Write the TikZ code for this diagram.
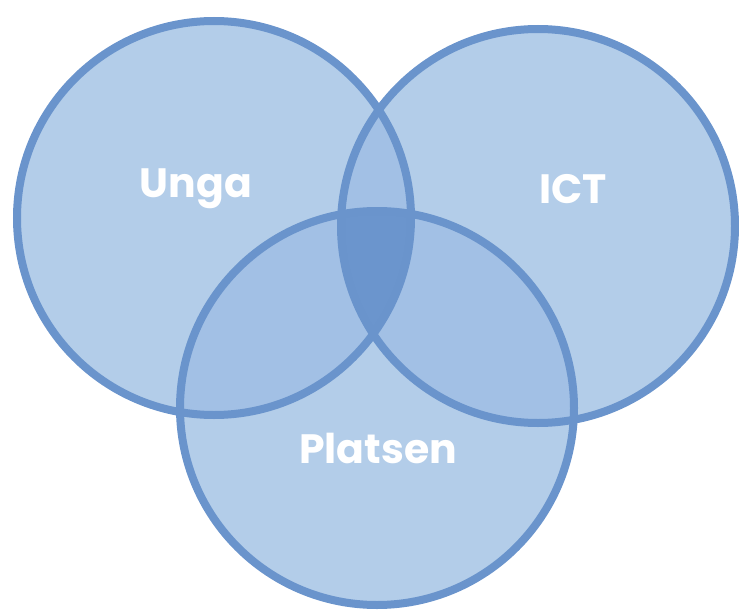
\documentclass[tikz,border=0pt]{standalone}
\usepackage{fontspec}
\setmainfont{Poppins}
\definecolor{ringblue}{HTML}{6A94CC}
\definecolor{onefill}{HTML}{B3CDE9}
\definecolor{twofill}{HTML}{A2C0E5}
\definecolor{threefill}{HTML}{6B95CD}
\begin{document}
\begin{tikzpicture}
    [
        x=1pt, y=-1pt,
        ring/.style = {draw=ringblue, line width=8pt},
        label/.style = {text=white, font=\fontsize{41}{41}\selectfont\bfseries, anchor=base, inner sep=0pt},
    ]
    \useasboundingbox (0,0) rectangle (739,610);

    \coordinate (cU) at (214,218);
    \coordinate (cI) at (538,226);
    \coordinate (cP) at (377,408);

    % plain fills
    \fill[onefill] (cU) circle (197);
    \fill[onefill] (cI) circle (197);
    \fill[onefill] (cP) circle (197);

    % pairwise overlaps
    \begin{scope}
        \clip (cU) circle (197);
        \fill[twofill] (cI) circle (197);
        \fill[twofill] (cP) circle (197);
    \end{scope}
    \begin{scope}
        \clip (cI) circle (197);
        \fill[twofill] (cP) circle (197);
    \end{scope}

    % all three
    \begin{scope}
        \clip (cU) circle (197);
        \clip (cI) circle (197);
        \fill[threefill] (cP) circle (197);
    \end{scope}

    % rings
    \draw[ring] (cU) circle (197);
    \draw[ring] (cI) circle (197);
    \draw[ring] (cP) circle (197);

    \node[label] (unga) at (196,197) {Unga};
    \node[label] (ict) at (573,203) {ICT};
    \node[label] (platsen) at (378,463) {Platsen};
\end{tikzpicture}
\end{document}
